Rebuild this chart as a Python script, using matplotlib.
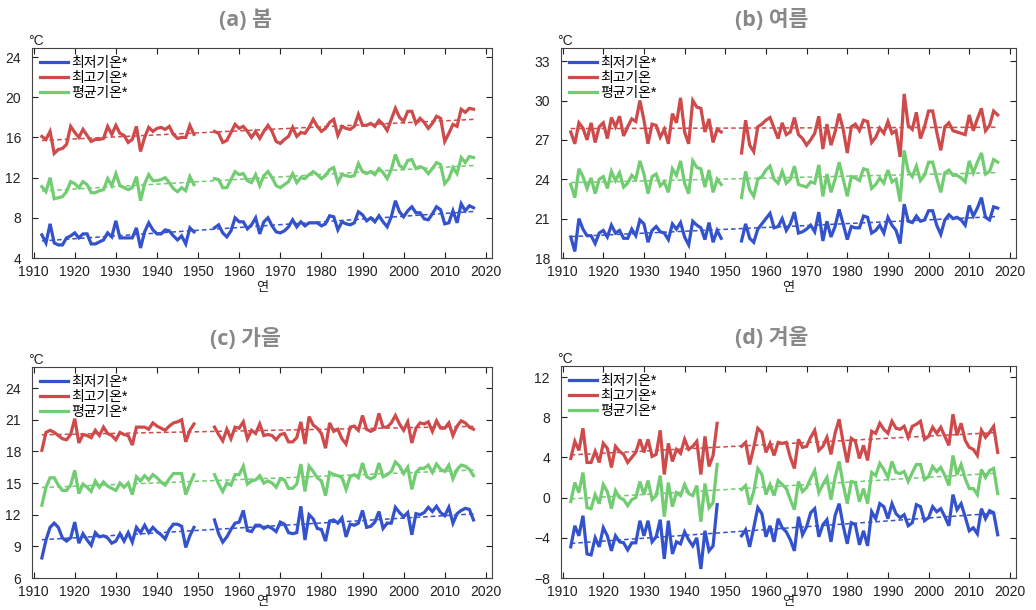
import numpy as np
import matplotlib
matplotlib.use('Agg')
import matplotlib.pyplot as plt

plt.rcParams['font.family'] = ['Liberation Sans', 'Noto Sans CJK KR']

nan = np.nan
years = np.arange(1912, 2018)

# 봄 (spring)
spring_max = [16.1, 15.8, 16.6, 14.4, 14.8, 14.9, 15.3, 17.1,
              16.5, 16.0, 16.8, 16.2, 15.6, 15.8, 15.8, 15.9, 17.1, 16.3,
              17.2, 16.4, 16.2, 15.5, 15.8, 17.1, 14.6, 16.0, 17.0, 16.6,
              16.9, 17.0, 16.8, 17.1, 16.3, 15.9, 16.0, 16.0, 17.2, 16.3,
              nan, nan, nan, nan, 16.6, 16.4, 15.5, 15.7, 16.5, 17.3,
              16.9, 17.1, 16.6, 16.0, 16.6, 15.9, 16.6, 17.2, 16.6, 15.6,
              15.4, 15.8, 16.1, 17.0, 16.1, 16.5, 16.4, 17.0, 17.8, 17.1,
              16.6, 16.9, 17.5, 17.8, 16.2, 17.1, 16.9, 16.8, 17.1, 18.3,
              17.2, 17.2, 17.4, 17.1, 17.7, 17.3, 16.7, 17.8, 18.9, 18.0,
              17.6, 18.6, 18.6, 17.4, 17.9, 17.5, 16.9, 17.4, 18.1, 17.9,
              15.6, 16.4, 17.3, 17.1, 18.8, 18.5, 18.9, 18.8]
spring_mean = [11.1, 10.6, 12.0, 9.9, 10.0, 10.1, 10.6, 11.6,
               11.4, 11.0, 11.6, 11.3, 10.5, 10.5, 10.7, 10.8, 11.9, 11.2,
               12.4, 11.2, 11.0, 10.8, 11.0, 12.1, 9.7, 11.4, 12.3, 11.7,
               11.7, 11.8, 12.0, 11.5, 10.9, 10.6, 11.0, 10.7, 12.1, 11.3,
               nan, nan, nan, nan, 11.9, 11.8, 11.0, 11.0, 11.8, 12.6,
               12.3, 12.4, 11.7, 11.5, 12.3, 11.2, 12.2, 12.6, 12.0, 11.2,
               11.0, 11.3, 11.6, 12.4, 11.5, 12.0, 11.9, 12.3, 12.6, 12.3,
               11.9, 12.2, 12.8, 13.0, 11.5, 12.3, 12.2, 12.1, 12.2, 13.4,
               12.6, 12.4, 12.6, 12.3, 12.9, 12.5, 11.9, 12.8, 14.3, 13.2,
               12.9, 13.7, 13.8, 12.9, 13.1, 12.9, 12.4, 12.9, 13.5, 13.3,
               11.4, 11.9, 13.0, 12.4, 14.0, 13.5, 14.1, 14.0]
spring_min = [6.3, 5.5, 7.4, 5.5, 5.3, 5.3, 6.0, 6.2,
              6.5, 6.0, 6.4, 6.4, 5.4, 5.4, 5.6, 5.8, 6.5, 6.1,
              7.7, 6.0, 6.0, 6.0, 6.0, 7.0, 5.0, 6.6, 7.5, 6.8,
              6.4, 6.4, 6.8, 6.7, 6.2, 5.8, 6.2, 5.4, 7.0, 6.6,
              nan, nan, nan, nan, 7.0, 7.3, 6.5, 6.1, 6.7, 8.0,
              7.6, 7.6, 6.9, 7.3, 8.0, 6.4, 7.6, 8.0, 7.2, 6.6,
              6.5, 6.7, 7.1, 7.8, 7.1, 7.6, 7.2, 7.5, 7.5, 7.5,
              7.2, 7.4, 8.2, 8.1, 6.8, 7.6, 7.4, 7.3, 7.5, 8.6,
              8.3, 7.7, 8.0, 7.6, 8.2, 7.6, 7.1, 8.1, 9.7, 8.6,
              8.1, 8.7, 9.1, 8.5, 8.5, 7.9, 7.8, 8.4, 9.1, 8.8,
              7.4, 7.5, 8.7, 7.5, 9.4, 8.7, 9.2, 9.0]

# 여름 (summer)
summer_max = [27.6, 26.7, 28.3, 27.9, 27.0, 28.3, 26.8, 28.0,
              28.3, 27.1, 28.7, 28.0, 28.8, 27.3, 28.0, 28.6, 28.4, 30.0,
              28.5, 26.7, 28.2, 28.1, 27.2, 27.8, 26.7, 29.0, 28.3, 30.2,
              27.6, 26.7, 30.0, 29.5, 29.4, 27.6, 28.6, 26.8, 27.8, 27.6,
              nan, nan, nan, nan, 26.0, 28.5, 26.6, 26.1, 28.0, 28.2,
              28.5, 28.7, 27.9, 27.1, 28.3, 27.4, 27.6, 28.7, 27.4, 27.1,
              26.6, 27.0, 27.5, 28.8, 26.3, 28.2, 26.6, 27.6, 29.0, 27.8,
              26.0, 28.0, 28.2, 27.7, 28.5, 28.4, 26.8, 27.2, 27.9, 27.5,
              28.4, 27.5, 27.7, 25.7, 30.5, 28.1, 27.8, 29.1, 27.1, 28.0,
              29.2, 29.2, 27.6, 26.2, 28.0, 28.3, 27.7, 27.6, 27.5, 27.4,
              28.9, 27.7, 28.6, 29.4, 27.7, 28.1, 29.2, 28.9]
summer_mean = [23.6, 22.6, 24.8, 24.2, 23.3, 24.1, 22.9, 24.0,
               24.2, 23.3, 24.6, 23.9, 24.5, 23.4, 23.7, 24.3, 24.0, 25.4,
               24.4, 22.9, 24.2, 24.4, 23.5, 23.8, 23.0, 24.8, 24.3, 25.4,
               23.7, 22.9, 25.4, 24.9, 24.8, 23.4, 24.7, 23.0, 24.0, 23.6,
               nan, nan, nan, nan, 22.6, 24.6, 23.2, 22.7, 24.0, 24.2,
               24.7, 25.0, 24.0, 23.7, 24.6, 23.7, 24.0, 25.0, 23.6, 23.5,
               23.4, 23.8, 23.7, 25.1, 22.7, 24.4, 23.0, 24.0, 25.3, 24.0,
               22.7, 24.2, 24.1, 23.9, 24.8, 24.7, 23.3, 23.6, 24.1, 23.7,
               24.7, 23.8, 24.0, 22.3, 26.2, 24.6, 24.2, 25.0, 23.9, 24.3,
               25.3, 25.3, 24.1, 23.0, 24.5, 24.7, 24.3, 24.3, 24.1, 23.8,
               25.4, 24.5, 25.3, 26.0, 24.4, 24.6, 25.5, 25.3]
summer_min = [19.6, 18.5, 21.0, 20.2, 19.7, 19.7, 19.1, 19.9,
              20.1, 19.6, 20.5, 19.9, 20.1, 19.5, 19.5, 20.2, 19.7, 20.9,
              20.6, 19.2, 20.1, 20.4, 20.0, 19.9, 19.4, 20.6, 20.2, 20.7,
              19.6, 19.0, 20.8, 20.5, 20.3, 19.4, 20.7, 19.2, 20.1, 19.5,
              nan, nan, nan, nan, 19.3, 20.6, 19.5, 19.2, 20.2, 20.6,
              21.0, 21.4, 20.3, 20.4, 21.0, 20.1, 20.6, 21.5, 19.9, 20.0,
              20.2, 20.5, 20.0, 21.5, 19.3, 20.8, 19.6, 20.4, 21.7, 20.6,
              19.4, 20.4, 20.3, 20.3, 21.2, 21.1, 19.9, 20.1, 20.5, 19.9,
              21.1, 20.5, 20.1, 19.1, 22.1, 20.8, 20.7, 21.2, 20.8, 20.9,
              21.6, 21.6, 20.5, 19.8, 20.9, 21.3, 21.0, 21.1, 20.9, 20.5,
              22.0, 21.2, 21.8, 22.6, 21.1, 20.9, 21.9, 21.8]

# 가을 (autumn)
autumn_max = [18.1, 19.8, 20.0, 19.8, 19.5, 19.2, 19.1, 19.6,
              21.1, 18.8, 19.6, 19.5, 19.3, 20.0, 19.5, 20.3, 19.7, 19.5,
              19.1, 19.8, 19.6, 19.5, 18.6, 20.3, 20.3, 20.3, 20.1, 20.7,
              20.4, 20.2, 20.0, 20.4, 20.7, 20.8, 21.0, 18.9, 20.0, 20.6,
              nan, nan, nan, nan, 20.3, 19.6, 19.0, 20.1, 19.2, 20.3,
              20.2, 20.8, 19.2, 20.0, 19.7, 20.6, 19.5, 19.6, 19.5, 19.1,
              19.6, 19.7, 18.9, 18.9, 19.3, 20.8, 18.7, 21.3, 20.5, 20.2,
              19.7, 18.3, 20.7, 19.9, 20.1, 19.2, 18.7, 20.3, 20.4, 20.0,
              21.4, 20.1, 19.9, 20.1, 21.6, 20.3, 20.3, 20.7, 21.4, 20.6,
              20.0, 20.8, 18.8, 20.2, 20.7, 20.6, 20.8, 19.9, 20.9, 20.2,
              20.2, 20.7, 19.5, 20.4, 20.9, 20.7, 20.3, 20.1]
autumn_mean = [12.9, 14.6, 15.5, 15.5, 14.8, 14.3, 14.3, 14.8,
               16.2, 14.0, 14.9, 14.6, 14.2, 15.2, 14.6, 15.1, 14.7, 14.5,
               14.3, 15.0, 14.6, 15.0, 13.9, 15.6, 15.2, 15.7, 15.3, 15.8,
               15.5, 15.1, 14.8, 15.4, 15.9, 15.9, 15.9, 13.9, 14.9, 15.8,
               nan, nan, nan, nan, 15.8, 14.9, 14.2, 15.0, 14.8, 15.8,
               15.8, 16.6, 14.9, 15.2, 15.3, 15.7, 15.0, 15.2, 15.0, 14.6,
               15.4, 15.3, 14.5, 14.5, 14.9, 16.8, 14.2, 16.6, 16.1, 15.5,
               15.2, 13.8, 16.0, 15.8, 15.7, 15.5, 14.4, 15.6, 15.8, 15.5,
               16.9, 15.6, 15.4, 15.6, 16.9, 15.6, 15.8, 16.1, 17.0, 16.6,
               15.9, 16.5, 14.4, 16.0, 16.4, 16.4, 16.7, 16.0, 16.8, 16.3,
               16.1, 16.7, 15.4, 16.3, 16.7, 16.6, 16.3, 15.7]
autumn_min = [7.9, 9.6, 10.8, 11.2, 10.8, 9.8, 9.5, 9.8,
              11.3, 9.3, 10.2, 9.6, 9.1, 10.3, 9.9, 10.0, 9.8, 9.3,
              9.5, 10.2, 9.5, 10.3, 9.4, 10.8, 10.3, 11.0, 10.3, 10.8,
              10.4, 10.1, 9.7, 10.6, 11.1, 11.1, 10.9, 8.9, 10.0, 10.8,
              nan, nan, nan, nan, 11.5, 10.2, 9.4, 9.9, 10.6, 11.2,
              11.3, 12.4, 10.5, 10.4, 11.0, 11.0, 10.7, 10.9, 10.7, 10.4,
              11.3, 11.1, 10.3, 10.2, 10.3, 12.8, 9.6, 12.0, 11.6, 10.7,
              10.6, 9.5, 11.4, 11.5, 11.2, 11.7, 9.9, 11.1, 11.0, 11.2,
              12.4, 10.8, 10.9, 11.3, 12.3, 10.7, 11.2, 11.2, 12.7, 12.2,
              11.8, 12.2, 10.1, 12.1, 12.0, 12.2, 12.7, 12.3, 12.8, 12.2,
              11.9, 12.7, 11.2, 12.1, 12.4, 12.6, 12.5, 11.5]

# 겨울 (winter)
winter_max = [3.9, 5.6, 4.7, 6.9, 3.5, 3.5, 4.6, 3.5,
              5.4, 4.9, 3.0, 5.1, 4.6, 4.3, 3.5, 4.0, 4.5, 5.8,
              4.5, 5.8, 4.1, 4.3, 6.7, 2.3, 5.4, 3.6, 4.8, 4.4,
              5.8, 4.8, 5.1, 5.6, 2.3, 6.1, 3.1, 4.2, 7.4, nan,
              nan, nan, nan, nan, 5.1, 5.5, 3.3, 5.0, 6.9, 6.5,
              4.5, 5.4, 4.2, 5.5, 5.4, 5.5, 4.0, 2.9, 5.8, 5.0,
              5.1, 6.0, 6.7, 4.7, 5.1, 6.0, 4.3, 6.4, 7.8, 5.5,
              3.5, 5.9, 5.6, 3.9, 5.2, 3.7, 6.6, 6.4, 7.4, 6.8,
              6.4, 7.6, 6.9, 6.8, 7.1, 6.0, 7.1, 7.3, 7.6, 5.8,
              6.1, 7.0, 6.4, 7.0, 6.1, 5.2, 8.3, 6.2, 7.4, 5.7,
              5.0, 4.8, 4.2, 6.7, 6.0, 6.5, 7.1, 4.5]
winter_mean = [-0.4, 1.5, 0.5, 2.5, -1.0, -1.1, 0.3, -0.6,
               1.3, 0.6, -1.1, 0.7, 0.0, -0.2, -0.8, -0.2, 0.0, 1.6,
               0.3, 1.7, -0.2, 0.2, 2.2, -1.9, 1.5, -0.9, 0.5, 0.2,
               1.3, 0.4, 0.2, 1.2, -2.4, 1.4, -1.0, -0.5, 3.3, nan,
               nan, nan, nan, nan, 0.8, 1.2, -0.7, 0.6, 2.9, 2.3,
               0.3, 1.3, 0.2, 1.7, 1.3, 0.9, -0.2, -1.2, 1.6, 0.6,
               1.0, 1.9, 2.7, 0.5, 1.3, 2.0, -0.2, 2.0, 3.6, 1.3,
               -0.6, 1.6, 1.5, -0.4, 0.9, -0.6, 2.5, 2.2, 3.4, 2.8,
               2.0, 3.6, 2.5, 2.4, 2.6, 1.6, 2.5, 3.3, 3.3, 1.8,
               2.1, 3.1, 2.6, 3.0, 2.2, 1.2, 4.2, 2.3, 3.3, 1.9,
               0.9, 0.9, 0.3, 2.8, 2.0, 2.7, 2.9, 0.4]
winter_min = [-4.9, -2.8, -3.8, -1.8, -5.6, -5.7, -4.0, -4.9,
              -3.0, -3.8, -5.3, -3.8, -4.4, -4.5, -5.2, -4.5, -4.5, -2.3,
              -3.8, -2.3, -4.4, -3.9, -2.2, -6.1, -2.3, -5.6, -4.4, -4.6,
              -3.4, -4.2, -4.8, -4.0, -7.1, -3.3, -5.3, -4.8, -0.7, nan,
              nan, nan, nan, nan, -3.8, -3.2, -4.9, -3.0, -1.0, -1.6,
              -3.9, -2.8, -4.4, -2.1, -3.0, -3.4, -4.2, -5.3, -1.9, -3.7,
              -2.9, -1.5, -1.1, -3.9, -2.7, -2.2, -4.4, -1.8, -0.6, -2.8,
              -4.6, -2.5, -2.7, -4.7, -3.3, -4.8, -1.4, -2.1, -0.6, -0.9,
              -2.1, -0.6, -1.6, -2.0, -1.7, -2.8, -2.5, -0.7, -0.9, -2.3,
              -2.0, -0.9, -1.4, -1.1, -1.9, -2.8, 0.3, -1.2, -0.6, -1.9,
              -3.3, -3.0, -3.6, -1.1, -2.1, -1.3, -1.5, -3.7]

titles = ['(a) 봄', '(b) 여름', '(c) 가을', '(d) 겨울']
series = [(spring_min, spring_max, spring_mean),
          (summer_min, summer_max, summer_mean),
          (autumn_min, autumn_max, autumn_mean),
          (winter_min, winter_max, winter_mean)]
labels = [['최저기온*', '최고기온*', '평균기온*'],
          ['최저기온*', '최고기온', '평균기온*'],
          ['최저기온*', '최고기온*', '평균기온*'],
          ['최저기온*', '최고기온*', '평균기온*']]
ylims = [(4, 24.9), (18, 34), (6, 26), (-8, 13.1)]
yticks = [np.arange(4, 25, 4), np.arange(18, 34, 3),
          np.arange(6, 25, 3), np.arange(-8, 13, 4)]
colors = ['#3352cc', '#cf4a4a', '#72cc72']

W, H = 1036, 610
# axes boxes in pixels: left, top, right, bottom
boxes = [(32, 48, 492, 258), (561, 48, 1016, 258),
         (32, 367, 492, 578), (561, 366, 1016, 578)]

fig = plt.figure(figsize=(W / 100, H / 100), dpi=100)

for i in range(4):
    l, t, r, b = boxes[i]
    ax = fig.add_axes([l / W, (H - b) / H, (r - l) / W, (b - t) / H])
    for vals, c, lab in zip(series[i], colors, labels[i]):
        v = np.array(vals, dtype=float)
        ax.plot(years, v, color=c, lw=2.3, label=lab, solid_joinstyle='miter')
        ok = ~np.isnan(v)
        k, c0 = np.polyfit(years[ok], v[ok], 1)
        ax.plot(years, k * years + c0, color=c, lw=1.1, ls=(0, (3, 2)))
    ax.set_xlim(1909.6, 2021.5)
    ax.set_ylim(*ylims[i])
    ax.set_xticks(np.arange(1910, 2021, 10))
    ax.set_yticks(yticks[i])
    ax.tick_params(direction='in', top=True, right=True, length=4, width=0.8,
                   labelsize=10, colors='#222222')
    ax.tick_params(axis='x', pad=5)
    ax.tick_params(axis='y', pad=8)
    for s in ax.spines.values():
        s.set_linewidth(0.8)
        s.set_color('#444444')
    ax.legend(loc='upper left', frameon=False, fontsize=10, handlelength=2.0,
              handletextpad=0.2, labelspacing=0.05, borderaxespad=0.3,
              borderpad=0.3)
    cx = (l + r) / 2 - 17
    fig.text(cx / W, 1 - (t - 28) / H, titles[i], ha='center', va='center',
             fontsize=15.5, fontweight='bold', color='#888888',
             family=['Open Sans', 'Noto Sans CJK KR'])
    fig.text((l - 4) / W, 1 - (t - 7) / H, '°C', ha='left', va='center',
             fontsize=10, color='#222222')
    fig.text((l + r) / 2 / W, 1 - min(b + 30, H - 9) / H, '연', ha='center',
             va='center', fontsize=9.5, color='#222222',
             family=['Noto Sans CJK KR'])

fig.savefig('out.png', dpi=100)
